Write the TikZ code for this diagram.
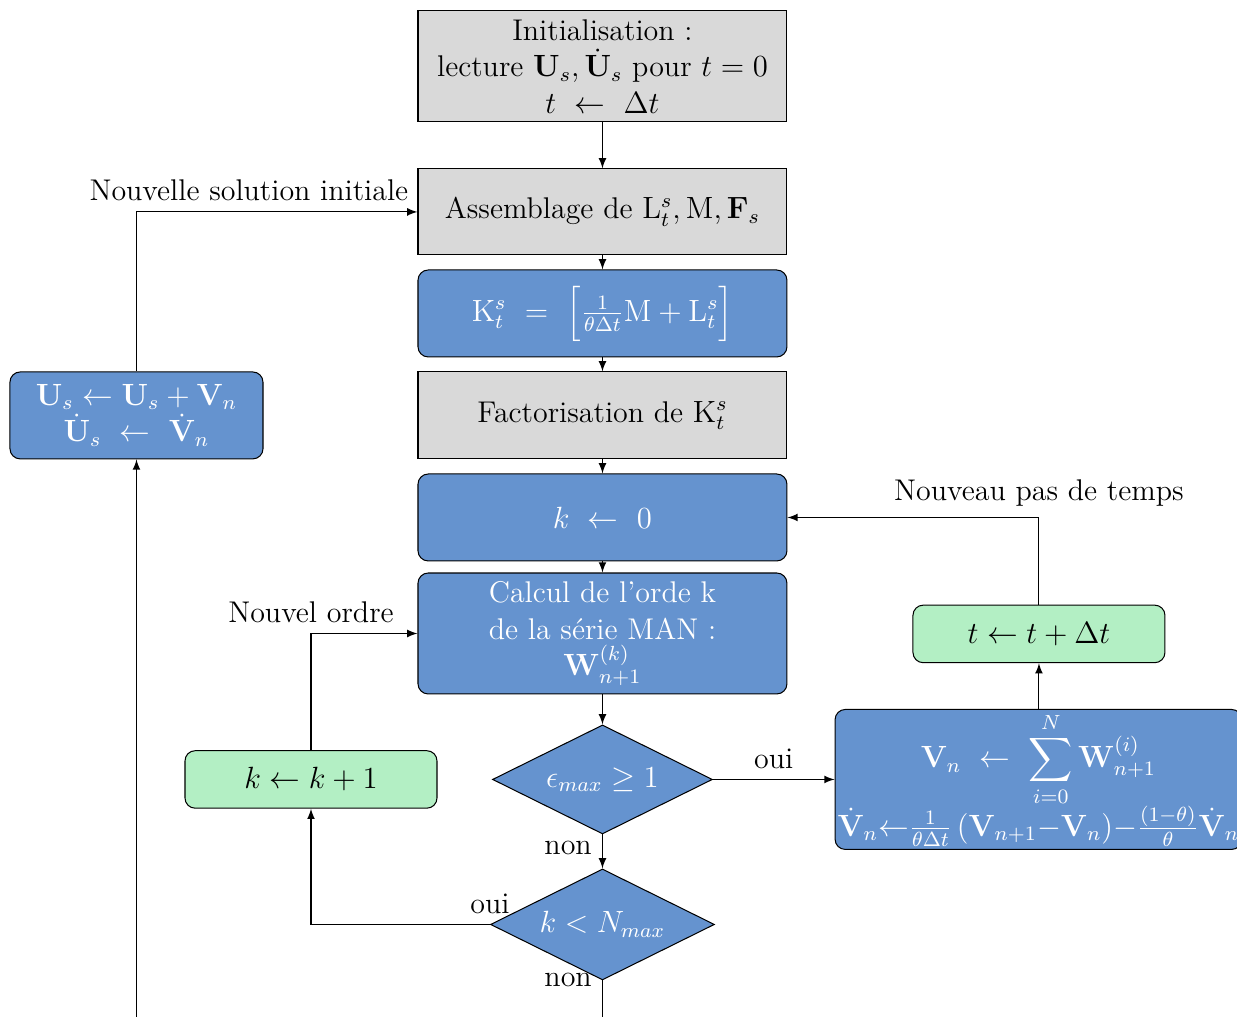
\documentclass[tikz,border=0pt,12pt]{standalone}
\usepackage{amsmath}
\usetikzlibrary{shapes.geometric,arrows}
\definecolor{boxgray}{RGB}{217,217,217}
\definecolor{stepblue}{RGB}{101,147,207}
\definecolor{stepgreen}{RGB}{179,239,196}
\begin{document}
\begin{tikzpicture}[x=1cm, y=1cm, >=latex, font=\fontsize{11.7pt}{14.3pt}\selectfont,
  grisbox/.style={draw, fill=boxgray, align=center, inner sep=2pt, minimum width=5.066cm},
  bluebox/.style={draw, rounded corners=4pt, fill=stepblue, text=white, align=center, inner sep=2pt},
  greenbox/.style={draw, rounded corners=4pt, fill=stepgreen, align=center, inner sep=2pt, minimum width=3.46cm, minimum height=0.79cm},
  testbox/.style={draw, diamond, fill=stepblue, text=white, inner sep=0pt, aspect=2}]
\useasboundingbox (0,0) rectangle (16.984,13.963);
  \node[grisbox, minimum height=1.524cm] (init) at (8.272,13.050) {Initialisation :\\ lecture $\mathbf{U}_s, \dot{\mathbf{U}}_s$ pour $t=0$\\ $t \ \leftarrow \ \Delta t$};
  \node[grisbox, minimum height=1.181cm] (assem) at (8.272,11.053) {Assemblage de $\mathrm{L}_t^s, \mathrm{M}, \mathbf{F}_s$};
  \node[bluebox, minimum width=5.066cm, minimum height=1.194cm] (kmat) at (8.272,9.659) {$\mathrm{K}_t^s \ = \ \Big[\frac{1}{\theta\Delta t}\mathrm{M} + \mathrm{L}_t^s\Big]$};
  \node[grisbox, minimum height=1.194cm] (fact) at (8.272,8.259) {Factorisation de $\mathrm{K}_t^s$};
  \node[bluebox, minimum width=5.066cm, minimum height=1.194cm] (kzero) at (8.272,6.858) {$k \ \leftarrow \ 0$};
  \node[bluebox, minimum width=5.066cm, minimum height=1.661cm] (calc) at (8.272,5.265) {Calcul de l'orde k\\ de la série MAN :\\ $\mathbf{W}_{n+1}^{(k)}$};
  \node[testbox, minimum width=3.02cm, minimum height=1.497cm] (eps) at (8.272,3.261) {$\epsilon_{max} \geq 1$};
  \node[testbox, minimum width=3.075cm, minimum height=1.524cm] (kmax) at (8.272,1.270) {$k < N_{max}$};
  \node[greenbox] (kplus) at (4.270,3.261) {$k \leftarrow k+1$};
  \node[bluebox, minimum width=3.474cm, minimum height=1.194cm] (solu) at (1.874,8.259) {$\mathbf{U}_s \leftarrow \mathbf{U}_s + \mathbf{V}_n$\\ $\dot{\mathbf{U}}_s \ \leftarrow \ \dot{\mathbf{V}}_n$};
  \node[greenbox] (tmaj) at (14.265,5.259) {$t \leftarrow t+\Delta t$};
  \node[bluebox, inner sep=1pt, minimum width=5.451cm, minimum height=1.922cm] (vmaj) at (14.258,3.261) {$\mathbf{V}_n \ \leftarrow \ \displaystyle\sum_{i=0}^{N} \mathbf{W}_{n+1}^{(i)}$\\[-1pt] $\dot{\mathbf{V}}_n{\leftarrow}\frac{1}{\theta\Delta t}\,(\mathbf{V}_{n+1}{-}\mathbf{V}_n){-}\frac{(1-\theta)}{\theta}\dot{\mathbf{V}}_n$};
  \coordinate (lbot) at (1.874,-0.3);
  \coordinate (dbot) at (8.272,-0.3);
  \draw[->] (init) -- (assem);
  \draw[->] (assem) -- (kmat);
  \draw[->] (kmat) -- (fact);
  \draw[->] (fact) -- (kzero);
  \draw[->] (kzero) -- (calc);
  \draw[->] (calc) -- (eps);
  \draw[->] (eps) -- node[left, pos=0.4] (lnon1) {non} (kmax);
  \draw[->] (eps.east) -- node[above] (loui1) {oui} (vmaj.west);
  \draw[->] (tmaj.south |- vmaj.north) -- (tmaj.south);
  \draw[->] (tmaj.north) |- node[pos=0.5, above] (lpas) {Nouveau pas de temps} (kzero.east);
  \draw[->] (kmax.west) node[above] (loui2) {oui} -| (kplus.south);
  \draw[->] (kplus.north) |- node[pos=0.5, above] (lordre) {Nouvel ordre} (calc.west);
  \draw (kmax.south) node[left] (lnon2) {non} -- (dbot);
  \draw[->] (lbot) -- (solu.south);
  \draw[->] (solu.north) |- node[pos=0.7, above] (lnouv) {Nouvelle solution initiale} (assem.west);
\end{tikzpicture}
\end{document}
